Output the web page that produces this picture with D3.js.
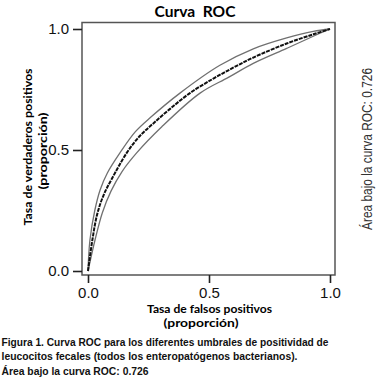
<!DOCTYPE html>
<html>
<head>
<meta charset="utf-8">
<script src="https://cdn.jsdelivr.net/npm/d3@7"></script>
<style>
  body { margin: 0; background: #fff; }
  svg { display: block; }
</style>
</head>
<body>
<svg id="viz" width="381" height="386"></svg>
<script>
// ROC curve (false positive rate, true positive rate)
var rocFpr = [0, 0.018, 0.038, 0.065, 0.098, 0.16, 0.216, 0.27, 0.339, 0.421, 0.518, 0.6, 0.683, 0.821, 0.931, 1];
var rocTpr = [0, 0.128, 0.235, 0.315, 0.38, 0.488, 0.56, 0.61, 0.67, 0.735, 0.795, 0.84, 0.882, 0.94, 0.978, 1];

// upper and lower confidence lines
var upperFpr = [0, 0.008, 0.028, 0.05, 0.08, 0.132, 0.195, 0.26, 0.38, 0.545, 0.683, 0.821, 0.931, 1];
var upperTpr = [0, 0.128, 0.25, 0.335, 0.405, 0.488, 0.575, 0.636, 0.735, 0.85, 0.918, 0.963, 0.99, 1];
var lowerFpr = [0, 0.029, 0.059, 0.095, 0.14, 0.201, 0.305, 0.463, 0.58, 0.683, 0.821, 0.931, 1];
var lowerTpr = [0, 0.128, 0.24, 0.33, 0.41, 0.488, 0.596, 0.735, 0.8, 0.858, 0.92, 0.97, 1];

var tickValues = [0, 0.5, 1];
var tickLabels = ['0.0', '0.5', '1.0'];

var captionLines = [
  'Figura 1. Curva ROC para los diferentes umbrales de positividad de',
  'leucocitos fecales (todos los enteropatógenos bacterianos).',
  'Área bajo la curva ROC: 0.726'
];

var svg = d3.select('#viz');

var x = d3.scaleLinear().domain([0, 1]).range([88, 330]);
var y = d3.scaleLinear().domain([0, 1]).range([271, 29]);

var boldFont = '"Lato", "Open Sans", "DejaVu Sans", sans-serif';
var narrowFont = '"Liberation Sans Narrow", "Arial Narrow", "Liberation Sans", sans-serif';

// frame
svg
  .append('rect')
  .attr('x', x(0) - 6)
  .attr('y', y(1) - 6.5)
  .attr('width', x(1) - x(0) + 11)
  .attr('height', y(0) - y(1) + 10.5)
  .attr('fill', 'none')
  .attr('stroke', '#555')
  .attr('stroke-width', 1.5);

// x axis
var xAxis = svg
  .append('g')
  .attr('transform', 'translate(0,' + (y(0) + 4) + ')')
  .call(
    d3.axisBottom(x)
      .tickValues(tickValues)
      .tickFormat((d, i) => tickLabels[i])
      .tickSize(8)
      .tickPadding(4)
  );
xAxis.select('.domain').remove();
xAxis.selectAll('line').attr('stroke', '#222').attr('stroke-width', 1.6);
xAxis
  .selectAll('text')
  .style('font-family', '"Liberation Sans", Arial, sans-serif')
  .style('font-size', '15px')
  .attr('fill', '#111');

// y axis
var yAxis = svg
  .append('g')
  .attr('transform', 'translate(' + (x(0) - 6) + ',0)')
  .call(
    d3.axisLeft(y)
      .tickValues(tickValues)
      .tickFormat((d, i) => tickLabels[i])
      .tickSize(9)
      .tickPadding(4)
  );
yAxis.select('.domain').remove();
yAxis.selectAll('line').attr('stroke', '#222').attr('stroke-width', 1.6);
yAxis
  .selectAll('text')
  .style('font-family', '"Liberation Sans", Arial, sans-serif')
  .style('font-size', '15px')
  .attr('fill', '#111');

// curves
var line = d3
  .line()
  .x((d) => x(d[0]))
  .y((d) => y(d[1]))
  .curve(d3.curveCatmullRom.alpha(0.5));

svg
  .append('path')
  .datum(d3.zip(upperFpr, upperTpr))
  .attr('d', line)
  .attr('fill', 'none')
  .attr('stroke', '#707070')
  .attr('stroke-width', 1.3);

svg
  .append('path')
  .datum(d3.zip(lowerFpr, lowerTpr))
  .attr('d', line)
  .attr('fill', 'none')
  .attr('stroke', '#707070')
  .attr('stroke-width', 1.3);

svg
  .append('path')
  .datum(d3.zip(rocFpr, rocTpr))
  .attr('d', line)
  .attr('fill', 'none')
  .attr('stroke', '#111')
  .attr('stroke-width', 2)
  .attr('stroke-dasharray', '4,1');

// title
svg
  .append('text')
  .attr('x', 195)
  .attr('y', 17)
  .attr('text-anchor', 'middle')
  .attr('textLength', 81)
  .attr('lengthAdjust', 'spacingAndGlyphs')
  .style('white-space', 'pre')
  .style('font-family', boldFont)
  .style('font-weight', 'bold')
  .style('font-size', '16px')
  .text('Curva  ROC');

// x axis title
svg
  .append('text')
  .attr('x', 209.5)
  .attr('y', 313)
  .attr('text-anchor', 'middle')
  .attr('textLength', 125)
  .attr('lengthAdjust', 'spacingAndGlyphs')
  .style('font-family', boldFont)
  .style('font-weight', 'bold')
  .style('font-size', '12px')
  .text('Tasa de falsos positivos');

svg
  .append('text')
  .attr('x', 201)
  .attr('y', 327)
  .attr('text-anchor', 'middle')
  .attr('textLength', 75)
  .attr('lengthAdjust', 'spacingAndGlyphs')
  .style('font-family', boldFont)
  .style('font-weight', 'bold')
  .style('font-size', '12px')
  .text('(proporción)');

// y axis title
svg
  .append('text')
  .attr('transform', 'translate(32,147) rotate(-90)')
  .attr('text-anchor', 'middle')
  .attr('textLength', 157)
  .attr('lengthAdjust', 'spacingAndGlyphs')
  .style('font-family', boldFont)
  .style('font-weight', 'bold')
  .style('font-size', '11px')
  .text('Tasa de verdaderos positivos');

svg
  .append('text')
  .attr('transform', 'translate(47,151) rotate(-90)')
  .attr('text-anchor', 'middle')
  .attr('textLength', 77)
  .attr('lengthAdjust', 'spacingAndGlyphs')
  .style('font-family', boldFont)
  .style('font-weight', 'bold')
  .style('font-size', '11px')
  .text('(proporción)');

// right side note
svg
  .append('text')
  .attr('transform', 'translate(372,149) rotate(-90)')
  .attr('text-anchor', 'middle')
  .attr('textLength', 162)
  .attr('lengthAdjust', 'spacingAndGlyphs')
  .style('font-family', narrowFont)
  .style('font-size', '14px')
  .attr('fill', '#333')
  .text('Área bajo la curva ROC: 0.726');

// caption
var captionWidths = [327, 296, 147];
svg
  .append('g')
  .selectAll('text')
  .data(captionLines)
  .join('text')
  .attr('x', 1.5)
  .attr('y', (d, i) => 346 + i * 14.3)
  .attr('textLength', (d, i) => captionWidths[i])
  .attr('lengthAdjust', 'spacingAndGlyphs')
  .style('font-family', narrowFont)
  .style('font-weight', 'bold')
  .style('font-size', '11.5px')
  .attr('fill', '#111')
  .text((d) => d);
</script>
</body>
</html>
